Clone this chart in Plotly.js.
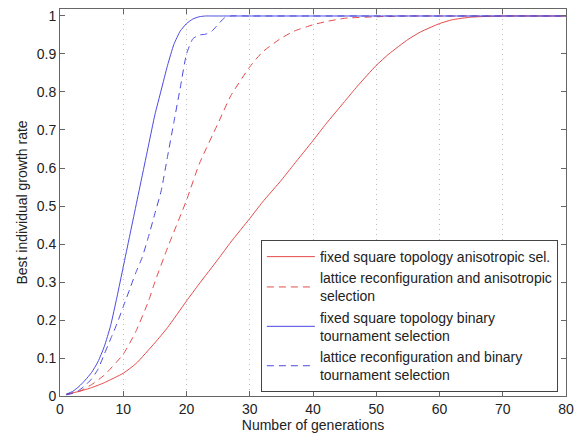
<!DOCTYPE html>
<html>
<head>
<meta charset="utf-8">
<script src="https://cdn.plot.ly/plotly-3.0.1.min.js"></script>
<style>html,body{margin:0;padding:0;background:#fff;}#chart{width:584px;height:436px;}</style>
</head>
<body>
<div id="chart"></div>
<script>
// Series: fixed square topology, anisotropic selection (red solid)
const redSolidX = [1,3,5,7,10,12,15,17,20,22,25,27,30,32,35,37,40,42,45,47,50,52,55,57,60,62,65,70,75,80];
const redSolidY = [0.005,0.012,0.022,0.035,0.06,0.085,0.14,0.18,0.25,0.295,0.36,0.405,0.467,0.51,0.568,0.61,0.672,0.715,0.775,0.815,0.87,0.9,0.938,0.958,0.98,0.99,0.997,1.0,1.0,1.0];
// lattice reconfiguration, anisotropic selection (red dashed)
const redDashX = [1,3,5,7,10,12,14,15,17,20,22,25,27,30,32,35,37,40,42,45,50,55,60,70,80];
const redDashY = [0.004,0.012,0.03,0.055,0.11,0.17,0.25,0.30,0.39,0.515,0.61,0.718,0.79,0.866,0.905,0.942,0.96,0.977,0.985,0.994,0.998,1.0,1.0,1.0,1.0];
// fixed square topology, binary tournament (blue solid)
const blueSolidX = [1,2,3,4,5,6,7,8,9,10,11,12,13,14,15,16,17,18,19,20,21,22,23,24,30,40,50,60,70,80];
const blueSolidY = [0.005,0.012,0.025,0.042,0.062,0.09,0.13,0.185,0.26,0.34,0.42,0.5,0.58,0.66,0.74,0.805,0.87,0.925,0.96,0.98,0.992,0.998,1.0,1.0,1.0,1.0,1.0,1.0,1.0,1.0];
// lattice reconfiguration, binary tournament (blue dashed)
const blueDashX = [1,2,3,4,5,6,7,8,9,10,11,12,13,14,15,16,17,18,19,20,21,22,23,24,25,26,27,30,40,50,60,70,80];
const blueDashY = [0.003,0.007,0.015,0.028,0.045,0.07,0.11,0.15,0.19,0.235,0.28,0.325,0.365,0.42,0.48,0.54,0.63,0.72,0.81,0.9,0.94,0.95,0.952,0.96,0.978,0.995,1.0,1.0,1.0,1.0,1.0,1.0,1.0];

const seriesNames = [
  "fixed square topology anisotropic sel.",
  "lattice reconfiguration and anisotropic<br>selection",
  "fixed square topology binary<br>tournament selection",
  "lattice reconfiguration and binary<br>tournament selection"
];
const xTicks = [0,10,20,30,40,50,60,70,80];
const yTicks = [0,0.1,0.2,0.3,0.4,0.5,0.6,0.7,0.8,0.9,1];

const RED = '#e54a4a', BLUE = '#4a4ae0';
const DASH = '7px,5px';
const FONT = 'Liberation Sans, Arial, sans-serif';

const lineBase = {width: 1, shape: 'spline', smoothing: 0.5};
const traces = [
  {x: redSolidX, y: redSolidY, name: seriesNames[0], mode: 'lines', line: Object.assign({color: RED}, lineBase)},
  {x: redDashX, y: redDashY, name: seriesNames[1], mode: 'lines', line: Object.assign({color: RED, dash: DASH}, lineBase)},
  {x: blueSolidX, y: blueSolidY, name: seriesNames[2], mode: 'lines', line: Object.assign({color: BLUE}, lineBase)},
  {x: blueDashX, y: blueDashY, name: seriesNames[3], mode: 'lines', line: Object.assign({color: BLUE, dash: DASH}, lineBase)}
];

const axisCommon = {
  showline: true, linecolor: '#666', linewidth: 1, mirror: 'ticks',
  ticks: 'inside', ticklen: 5, tickcolor: '#666', zeroline: false,
  tickfont: {family: FONT, size: 14, color: '#222'}
};

const layout = {
  width: 584, height: 436,
  margin: {l: 60, r: 18, t: 9, b: 40},
  paper_bgcolor: '#fff', plot_bgcolor: '#fff',
  font: {family: FONT, size: 14, color: '#222'},
  showlegend: true,
  xaxis: Object.assign({}, axisCommon, {
    range: [0, 80], tickvals: xTicks, ticktext: xTicks.map(String),
    showgrid: true, gridcolor: '#bdbdbd', griddash: '1px,4px', gridwidth: 1,
    title: {text: 'Number of generations', font: {size: 14}, standoff: 2}
  }),
  yaxis: Object.assign({}, axisCommon, {
    range: [0, 1.0184], tickvals: yTicks, ticktext: yTicks.map(String),
    showgrid: false,
    title: {text: 'Best individual growth rate', font: {size: 14}, standoff: 5}
  }),
  legend: {
    x: 0.397, y: 0.403, xanchor: 'left', yanchor: 'top',
    bgcolor: '#fff', bordercolor: '#444', borderwidth: 1,
    font: {size: 14, color: '#222'}, tracegroupgap: 0, itemwidth: 48
  }
};

Plotly.newPlot('chart', traces, layout, {displayModeBar: false, staticPlot: true});
</script>
</body>
</html>
